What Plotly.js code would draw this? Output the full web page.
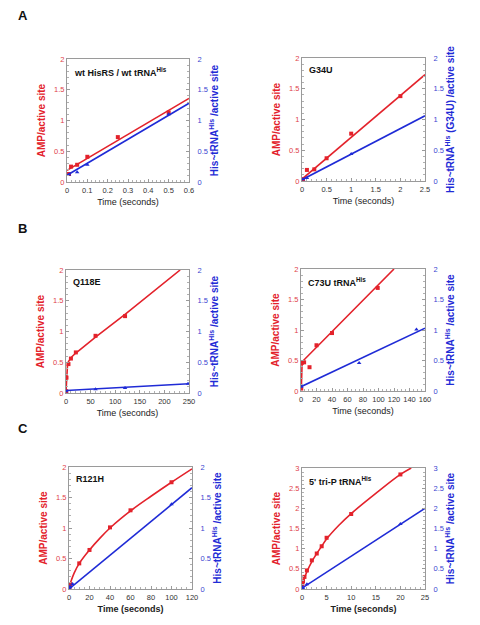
<!DOCTYPE html>
<html>
<head>
<meta charset="utf-8">
<script src="https://cdn.plot.ly/plotly-3.0.1.min.js"></script>
<style>
html,body{margin:0;padding:0;background:#fff;}
#chart{width:480px;height:625px;}
</style>
</head>
<body>
<div id="chart"></div>
<script>
// ---------- Panel A left: wt HisRS / wt tRNAHis ----------
const aL_ampT = [0.01, 0.02, 0.05, 0.1, 0.25, 0.5];
const aL_ampY = [0.13, 0.25, 0.28, 0.41, 0.73, 1.13];
const aL_ampFitT = [0, 0.6];
const aL_ampFitY = [0.19, 1.36];
const aL_hisT = [0.01, 0.05, 0.1, 0.5];
const aL_hisY = [0.12, 0.16, 0.28, 1.10];
const aL_hisFitT = [0, 0.6];
const aL_hisFitY = [0.11, 1.28];

// ---------- Panel A right: G34U ----------
const aR_ampT = [0.02, 0.1, 0.25, 0.5, 1.0, 2.0];
const aR_ampY = [0.03, 0.18, 0.19, 0.37, 0.77, 1.38];
const aR_ampFitT = [0, 2.5];
const aR_ampFitY = [0.03, 1.73];
const aR_hisT = [0.02, 0.1, 1.0];
const aR_hisY = [0.03, 0.05, 0.44];
const aR_hisFitT = [0, 2.5];
const aR_hisFitY = [0.02, 1.06];

// ---------- Panel B left: Q118E ----------
const bL_ampT = [0.5, 1, 5, 10, 20, 60, 120];
const bL_ampY = [0.03, 0.25, 0.47, 0.56, 0.66, 0.93, 1.25];
const bL_ampFitT = [0, 0.5, 1, 2, 3, 5, 8, 12, 20, 60, 120, 232];
const bL_ampFitY = [0.02, 0.15, 0.26, 0.38, 0.45, 0.51, 0.55, 0.59, 0.65, 0.91, 1.28, 2.0];
const bL_hisT = [0.5, 60, 120, 248];
const bL_hisY = [0.03, 0.06, 0.08, 0.15];
const bL_hisFitT = [0, 250];
const bL_hisFitY = [0.04, 0.15];

// ---------- Panel B right: C73U tRNAHis ----------
const bR_ampT = [0.3, 1, 4, 11, 20, 40, 99];
const bR_ampY = [0.04, 0.46, 0.47, 0.39, 0.75, 0.95, 1.69];
const bR_ampFitT = [0.4, 0.6, 1.5, 120];
const bR_ampFitY = [0.04, 0.45, 0.48, 2.0];
const bR_hisT = [0.3, 75, 149];
const bR_hisY = [0.07, 0.46, 1.01];
const bR_hisFitT = [0, 160];
const bR_hisFitY = [0.07, 1.03];

// ---------- Panel C left: R121H ----------
const cL_ampT = [0.5, 1, 10, 20, 40, 60, 100];
const cL_ampY = [0.03, 0.08, 0.42, 0.64, 1.01, 1.29, 1.75];
const cL_ampFitT = [0, 2, 5, 10, 20, 30, 40, 60, 80, 100, 120];
const cL_ampFitY = [0.03, 0.13, 0.26, 0.42, 0.64, 0.83, 1.0, 1.28, 1.52, 1.75, 1.97];
const cL_hisT = [0.3, 1, 3.5, 100];
const cL_hisY = [0.02, 0.04, 0.08, 1.39];
const cL_hisFitT = [0, 120];
const cL_hisFitY = [0.0, 1.66];

// ---------- Panel C right: 5' tri-P tRNAHis ----------
const cR_ampT = [0.07, 0.2, 0.5, 1, 2, 3, 4, 5, 10, 20];
const cR_ampY = [0.12, 0.19, 0.30, 0.46, 0.71, 0.88, 1.06, 1.27, 1.86, 2.84];
const cR_ampFitT = [0, 0.5, 1, 2, 3, 4, 5, 7.5, 10, 15, 20, 22.2];
const cR_ampFitY = [0.05, 0.27, 0.43, 0.68, 0.88, 1.06, 1.24, 1.58, 1.87, 2.37, 2.84, 3.0];
const cR_hisT = [0.1, 0.2, 1, 20];
const cR_hisY = [0.05, 0.02, 0.12, 1.61];
const cR_hisFitT = [0, 25];
const cR_hisFitY = [0.02, 2.0];

// axis ranges / ticks
const xRanges = [[0,0.6],[0,2.5],[0,250],[0,160],[0,120],[0,25]];
const xDticks = [0.1, 0.5, 50, 20, 20, 5];
const yMax = [2, 2, 2, 2, 2, 3];
const yDtick = 0.5;

const panelNames = ['wt HisRS / wt tRNA<sup>His</sup>', 'G34U', 'Q118E', 'C73U tRNA<sup>His</sup>', 'R121H', "5' tri-P tRNA<sup>His</sup>"];
const leftTitle = 'AMP/active site';
const rightTitles = [
  'His~tRNA<sup>His</sup> /active site',
  'His~tRNA<sup>His</sup> (G34U) /active site',
  'His~tRNA<sup>His</sup> /active site',
  'His~tRNA<sup>His</sup> /active site',
  'His~tRNA<sup>His</sup> /active site',
  'His~tRNA<sup>His</sup> /active site'
];
const xTitle = 'Time (seconds)';
const panelLetters = ['A', 'B', 'C'];

const data = [
  [aL_ampT,aL_ampY,aL_ampFitT,aL_ampFitY,aL_hisT,aL_hisY,aL_hisFitT,aL_hisFitY],
  [aR_ampT,aR_ampY,aR_ampFitT,aR_ampFitY,aR_hisT,aR_hisY,aR_hisFitT,aR_hisFitY],
  [bL_ampT,bL_ampY,bL_ampFitT,bL_ampFitY,bL_hisT,bL_hisY,bL_hisFitT,bL_hisFitY],
  [bR_ampT,bR_ampY,bR_ampFitT,bR_ampFitY,bR_hisT,bR_hisY,bR_hisFitT,bR_hisFitY],
  [cL_ampT,cL_ampY,cL_ampFitT,cL_ampFitY,cL_hisT,cL_hisY,cL_hisFitT,cL_hisFitY],
  [cR_ampT,cR_ampY,cR_ampFitT,cR_ampFitY,cR_hisT,cR_hisY,cR_hisFitT,cR_hisFitY]
];
const splineFit = [false,false,false,false,true,true];

// layout geometry (pixels)
const W = 480, H = 625;
const boxes = [
  [67,189,59,182],[302,425,58,181],
  [66,189,270,393],[301,425,269,391],
  [69,192,467,589],[302,425,468,589]
];

const RED = '#e3222b', BLUE = '#1f2bd6';
const RED_T = '#e0424a', BLUE_T = '#3a44d0';
const FONT = 'Liberation Sans, Arial, Helvetica, sans-serif';

const traces = [];
const layout = {
  width: W, height: H,
  margin: {l:0, r:0, t:0, b:0},
  paper_bgcolor: '#fff', plot_bgcolor: '#fff',
  showlegend: false,
  font: {family: FONT, color: '#222'},
  annotations: []
};

for (let i = 0; i < 6; i++) {
  const n = i + 1;
  const xa = n === 1 ? 'x' : 'x' + n;
  const yl = (2*n-1) === 1 ? 'y' : 'y' + (2*n-1);
  const yr = 'y' + (2*n);
  const [l, r, t, b] = boxes[i];
  const d = data[i];
  const isC = i >= 4;
  traces.push({x: d[2], y: d[3], xaxis: xa, yaxis: yl, mode: 'lines',
    line: {color: RED, width: 1.6, shape: splineFit[i] ? 'spline' : 'linear'}, hoverinfo: 'skip'});
  traces.push({x: d[0], y: d[1], xaxis: xa, yaxis: yl, mode: 'markers',
    marker: {color: RED, size: 4, symbol: 'square'}});
  traces.push({x: d[6], y: d[7], xaxis: xa, yaxis: yr, mode: 'lines',
    line: {color: BLUE, width: 1.6}, hoverinfo: 'skip'});
  traces.push({x: d[4], y: d[5], xaxis: xa, yaxis: yr, mode: 'markers',
    marker: {color: BLUE, size: 4, symbol: 'triangle-up'}});

  const xKey = n === 1 ? 'xaxis' : 'xaxis' + n;
  const ylKey = (2*n-1) === 1 ? 'yaxis' : 'yaxis' + (2*n-1);
  const yrKey = 'yaxis' + (2*n);
  layout[xKey] = {
    domain: [l/W, r/W], anchor: yl, range: xRanges[i], dtick: xDticks[i], tick0: 0, tickangle: 0,
    showgrid: false, zeroline: false, showline: true, mirror: true, linecolor: '#9a9a9a', linewidth: 1,
    ticks: 'inside', ticklen: 3, tickcolor: '#9a9a9a',
    minor: {ticks: 'inside', ticklen: 2, tickcolor: '#b0b0b0', nticks: 5},
    tickfont: {size: 7.5, color: '#333'}, ticklabelstandoff: 1,
    title: {text: xTitle, font: {size: 9, color: '#222', weight: isC ? 'bold' : 'normal'}, standoff: 4}
  };
  layout[ylKey] = {
    domain: [1 - b/H, 1 - t/H], anchor: xa, range: [0, yMax[i]], dtick: yDtick, tick0: 0, tickangle: 0,
    showgrid: false, zeroline: false, showline: true, linecolor: '#9a9a9a', linewidth: 1,
    ticks: 'inside', ticklen: 3, tickcolor: '#9a9a9a',
    minor: {ticks: 'inside', ticklen: 2, tickcolor: '#b0b0b0', nticks: 5},
    tickfont: {size: 7.5, color: RED_T},
    title: {text: leftTitle, font: {size: 10, color: RED, weight: 'bold'}, standoff: 6}
  };
  layout[yrKey] = {
    overlaying: yl, side: 'right', anchor: xa, range: [0, yMax[i]], dtick: yDtick, tick0: 0, tickangle: 0,
    showgrid: false, zeroline: false, showline: true, linecolor: '#9a9a9a', linewidth: 1,
    ticks: 'inside', ticklen: 3, tickcolor: '#9a9a9a',
    minor: {ticks: 'inside', ticklen: 2, tickcolor: '#b0b0b0', nticks: 5},
    tickfont: {size: 7.5, color: BLUE_T}, ticklabelstandoff: 6,
    title: {text: rightTitles[i], font: {size: 10, color: BLUE, weight: 'bold'}, standoff: 2}
  };
  layout.annotations.push({
    xref: xa + ' domain', yref: yl + ' domain', x: 0.04, y: 0.96,
    xanchor: 'left', yanchor: 'top', showarrow: false,
    text: panelNames[i], font: {size: 9, color: '#111', weight: 'bold', family: FONT}
  });
}

const letterY = [15, 228, 428];
panelLetters.forEach((s, k) => {
  layout.annotations.push({
    xref: 'paper', yref: 'paper', x: 16/W, y: 1 - letterY[k]/H,
    xanchor: 'left', yanchor: 'middle', showarrow: false,
    text: s, font: {size: 13, color: '#111', weight: 'bold', family: FONT}
  });
});

Plotly.newPlot('chart', traces, layout, {staticPlot: true, displayModeBar: false});
</script>
</body>
</html>
